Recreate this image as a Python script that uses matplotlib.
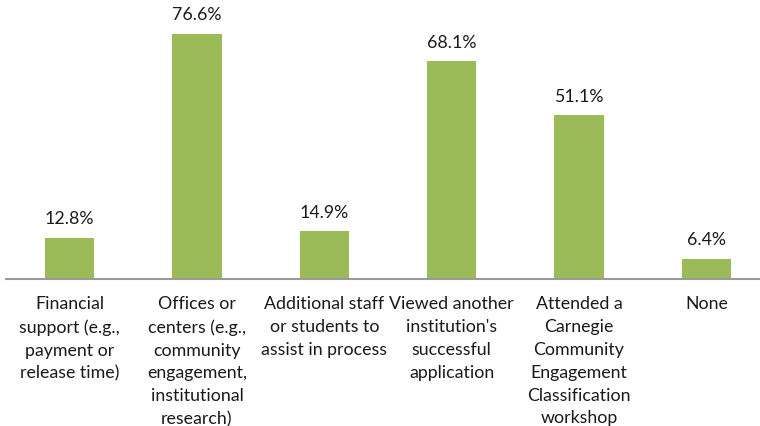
import matplotlib.pyplot as plt
import numpy as np

categories = [
    'Financial\nsupport (e.g.,\npayment or\nrelease time)',
    'Offices or\ncenters (e.g.,\ncommunity\nengagement,\ninstitutional\nresearch)',
    'Additional staff\nor students to\nassist in process',
    "Viewed another\ninstitution's\nsuccessful\napplication",
    'Attended a\nCarnegie\nCommunity\nEngagement\nClassification\nworkshop',
    'None',
]
values = [12.8, 76.6, 14.9, 68.1, 51.1, 6.4]

plt.rcParams['font.family'] = ['Lato', 'DejaVu Sans']

fig = plt.figure(figsize=(7.6, 4.26), dpi=100)
ax = fig.add_axes([6 / 760, (426 - 279) / 426, 764 / 760, 256 / 426])

x = np.arange(len(values))
ax.bar(x, values, width=0.39, color='#9BBB59')
for xi, v in zip(x, values):
    ax.text(xi, v + 3.3, f'{v:.1f}%', ha='center', va='bottom', fontsize=12.8,
            color='#1a1a1a', clip_on=False)

for xi, label in zip(x, categories):
    ax.text(xi, -5.3, label, ha='center', va='top', fontsize=12.8,
            color='#1a1a1a', linespacing=1.53, clip_on=False)

ax.set_xlim(-0.5, len(values) - 0.5)
ax.set_ylim(0, 80)
for s in ['top', 'right', 'left']:
    ax.spines[s].set_visible(False)
ax.spines['bottom'].set_color('#9a9a9a')
ax.spines['bottom'].set_linewidth(1.5)
ax.set_xticks([])
ax.set_yticks([])

fig.savefig('out.png', dpi=100)
